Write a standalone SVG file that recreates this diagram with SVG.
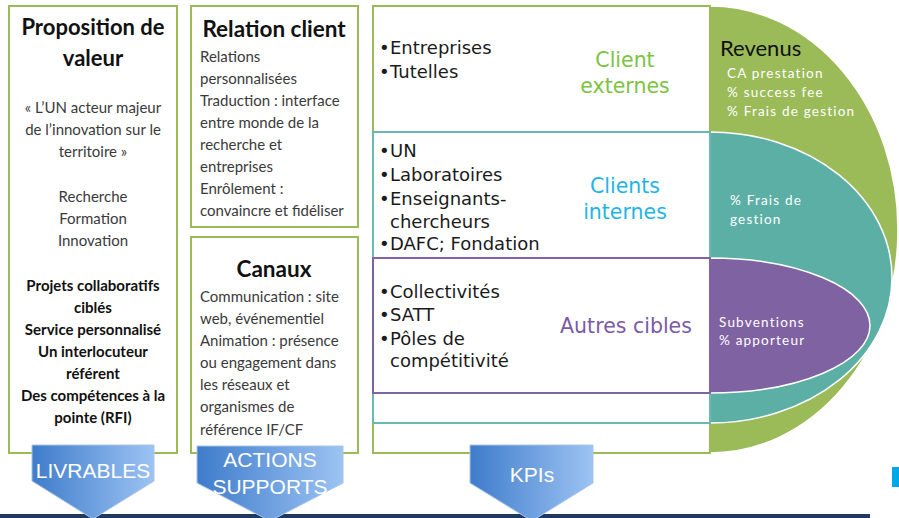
<svg xmlns="http://www.w3.org/2000/svg" width="899" height="518" viewBox="0 0 899 518">
<defs>
<linearGradient id="blueGrad" x1="0" y1="0" x2="1" y2="0">
<stop offset="0" stop-color="#3F7CCB"/>
<stop offset="1" stop-color="#9CC3F3"/>
</linearGradient>
<style>
.box{fill:#fff;stroke:#9BBB59;stroke-width:2}
.title{font-family:Lato,"Liberation Sans",sans-serif;font-weight:bold;fill:#111}
.body{font-family:Lato,"Liberation Sans",sans-serif;font-size:15px;fill:#3a3a3a}
.bold{font-family:Lato,"Liberation Sans",sans-serif;font-size:15px;font-weight:bold;fill:#111}
.seg{font-family:"DejaVu Sans",sans-serif;font-size:18px;fill:#1a1a1a}
.lab{font-family:"DejaVu Sans",sans-serif;font-size:20.5px}
.rev{font-family:Lato,"Liberation Sans",sans-serif;font-size:13.5px;letter-spacing:1.2px;fill:#fff}
.arrow{fill:url(#blueGrad);stroke:#A9C4E6;stroke-width:1}
.atext{font-family:"Liberation Sans",Arial,sans-serif;font-size:21px;fill:#fff;text-anchor:middle}
</style>
</defs>
<rect width="899" height="518" fill="#fff"/>

<g id="proposition-valeur">
<rect class="box" x="9" y="6" width="168" height="447"/>
<g text-anchor="middle">
<text class="title" x="93" y="35" font-size="22">Proposition de</text>
<text class="title" x="93" y="66" font-size="22">valeur</text>
<text class="body" x="93" y="113">« L’UN acteur majeur</text>
<text class="body" x="93" y="135">de l’innovation sur le</text>
<text class="body" x="93" y="157">territoire »</text>
<text class="body" x="93" y="202">Recherche</text>
<text class="body" x="93" y="224">Formation</text>
<text class="body" x="93" y="246">Innovation</text>
<text class="bold" x="93" y="291">Projets collaboratifs</text>
<text class="bold" x="93" y="313">ciblés</text>
<text class="bold" x="93" y="335">Service personnalisé</text>
<text class="bold" x="93" y="357">Un interlocuteur</text>
<text class="bold" x="93" y="379">référent</text>
<text class="bold" x="93" y="401">Des compétences à la</text>
<text class="bold" x="93" y="423">pointe (RFI)</text>
</g>
</g>

<g id="relation-client">
<rect class="box" x="191" y="6" width="167" height="221"/>
<text class="title" x="274" y="37" font-size="22.5" text-anchor="middle">Relation client</text>
<text class="body" x="200" y="62">Relations</text>
<text class="body" x="200" y="84">personnalisées</text>
<text class="body" x="200" y="106">Traduction : interface</text>
<text class="body" x="200" y="128">entre monde de la</text>
<text class="body" x="200" y="150">recherche et</text>
<text class="body" x="200" y="172">entreprises</text>
<text class="body" x="200" y="194">Enrôlement :</text>
<text class="body" x="200" y="216">convaincre et fidéliser</text>
</g>

<g id="canaux">
<rect class="box" x="191" y="237" width="167" height="216"/>
<text class="title" x="274" y="277" font-size="22.5" text-anchor="middle">Canaux</text>
<text class="body" x="200" y="302">Communication : site</text>
<text class="body" x="200" y="324">web, événementiel</text>
<text class="body" x="200" y="346">Animation : présence</text>
<text class="body" x="200" y="368">ou engagement dans</text>
<text class="body" x="200" y="390">les réseaux et</text>
<text class="body" x="200" y="412">organismes de</text>
<text class="body" x="200" y="435">référence IF/CF</text>
</g>

<g id="revenus">
<path d="M710,6 A188,223.5 0 0 1 710,453 Z" fill="#9BBB59" stroke="#fff" stroke-width="1.5"/>
<path d="M710,132 A182,145.5 0 0 1 710,423 Z" fill="#5BAFA5" stroke="#fff" stroke-width="1.5"/>
<path d="M710,258 A160,67.5 0 0 1 710,393 Z" fill="#7F62A1" stroke="#fff" stroke-width="1.5"/>
<text x="720" y="56" font-family="Lato,'Liberation Sans',sans-serif" font-size="22" fill="#111">Revenus</text>
<text class="rev" x="727" y="78">CA prestation</text>
<text class="rev" x="727" y="97">% success fee</text>
<text class="rev" x="727" y="116">% Frais de gestion</text>
<text class="rev" x="730" y="205">% Frais de</text>
<text class="rev" x="730" y="224">gestion</text>
<text class="rev" x="719" y="327">Subventions</text>
<text class="rev" x="719" y="345">% apporteur</text>
</g>

<g id="client-externes">
<rect x="373" y="6" width="337" height="447" fill="#fff" stroke="#9BBB59" stroke-width="2"/>
<text class="seg" x="379" y="54">•</text><text class="seg" x="390" y="54">Entreprises</text>
<text class="seg" x="379" y="78">•</text><text class="seg" x="390" y="78">Tutelles</text>
<text class="lab" x="625" y="67" fill="#7DC243" text-anchor="middle">Client</text>
<text class="lab" x="625" y="93" fill="#7DC243" text-anchor="middle">externes</text>
</g>

<g id="clients-internes">
<rect x="373" y="132" width="337" height="291" fill="#fff" stroke="#6BB8B2" stroke-width="2"/>
<text class="seg" x="379" y="157">•</text><text class="seg" x="390" y="157">UN</text>
<text class="seg" x="379" y="181">•</text><text class="seg" x="390" y="181">Laboratoires</text>
<text class="seg" x="379" y="205">•</text><text class="seg" x="390" y="205">Enseignants-</text>
<text class="seg" x="390" y="228">chercheurs</text>
<text class="seg" x="379" y="250">•</text><text class="seg" x="390" y="250">DAFC; Fondation</text>
<text class="lab" x="625" y="193" fill="#1FB4E6" text-anchor="middle">Clients</text>
<text class="lab" x="625" y="219" fill="#1FB4E6" text-anchor="middle">internes</text>
</g>

<g id="autres-cibles">
<rect x="373" y="258" width="337" height="135" fill="#fff" stroke="#8064A2" stroke-width="2"/>
<text class="seg" x="379" y="298">•</text><text class="seg" x="390" y="298">Collectivités</text>
<text class="seg" x="379" y="321">•</text><text class="seg" x="390" y="321">SATT</text>
<text class="seg" x="379" y="345">•</text><text class="seg" x="390" y="345">Pôles de</text>
<text class="seg" x="390" y="367">compétitivité</text>
<text class="lab" x="626" y="333" fill="#7B5AA6" text-anchor="middle">Autres cibles</text>
</g>

<g id="connectors"></g>

<rect x="0" y="514" width="870" height="4" fill="#1F3A5F"/>
<rect x="892" y="467" width="7" height="20" fill="#00A8E8"/>

<g id="livrables">
<polygon class="arrow" points="32,445 154,445 154,481 93,519 32,481"/>
<text class="atext" x="93" y="478">LIVRABLES</text>
</g>
<g id="actions-supports">
<polygon class="arrow" points="197,446 343,446 343,483 270,521 197,483"/>
<text class="atext" x="270" y="467">ACTIONS</text>
<text class="atext" x="270" y="494">SUPPORTS</text>
</g>
<g id="kpis">
<polygon class="arrow" points="470,445 593,445 593,483 532,521 470,483"/>
<text class="atext" x="532" y="482">KPIs</text>
</g>
</svg>
